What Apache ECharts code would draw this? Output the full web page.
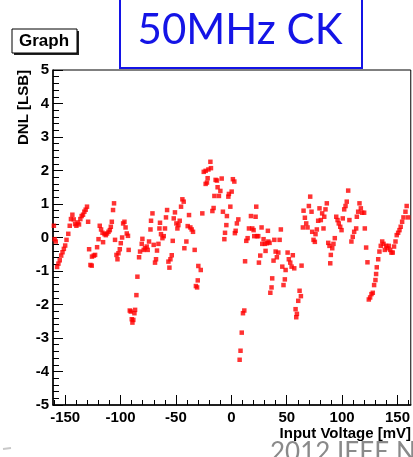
<!DOCTYPE html>
<html>
<head>
<meta charset="utf-8">
<script src="https://cdn.jsdelivr.net/npm/echarts@6/dist/echarts.min.js"></script>
<style>
html, body { margin: 0; padding: 0; background: #fff; }
#chart { width: 413px; height: 457px; }
</style>
</head>
<body>
<div id="chart"></div>
<script>
// Input voltage of each code transition [mV]
const voltage = [
  -160.2,-159.5,-158.5,-157.3,-156.1,-154.9,-153.6,-152.4,-151.2,-150.0,
  -148.8,-147.2,-145.9,-144.8,-143.5,-142.3,-141.1,-139.9,-138.7,-137.5,
  -136.3,-135.1,-133.9,-132.7,-131.5,-130.3,-129.3,
  -128.4,-127.2,-126.0,-125.8,-124.2,-123.0,-121.2,-119.9,-118.8,-117.6,-116.3,-115.8,-114.5,-113.3,-112.2,-110.9,-109.7,-108.8,-107.9,-106.8,-105.9,
  -105.0,-103.7,-102.8,-101.9,-100.7,-99.8,-98.6,-97.7,-96.5,-95.5,-94.4,-93.3,-92.7,
  -91.7,-90.8,-89.9,-89.3,-88.5,-87.5,-86.9,-85.7,-84.8,
  -83.3,-82.4,-80.9,-80.3,-79.1,-77.9,-76.4,-75.5,-74.3,-73.0,-72.5,-71.2,
  -70.1,-68.9,-68.0,-67.1,-65.8,-64.9,-64.4,-63.5,-62.2,-61.0,-59.9,-59.0,-58.0,
  -56.8,-55.9,-55.0,-53.8,-52.9,-52.0,-50.9,-49.6,-48.7,-47.8,-46.6,-45.4,-44.2,-43.0,
  -42.4,-40.6,-39.4,-38.2,-37.0,-35.8,-34.6,-33.1,
  -32.0,-30.9,-30.3,-29.8,-27.6,
  -26.2,-24.9,-23.2,-23.2,-22.0,-21.4,-20.7,-18.9,-18.4,-17.1,-16.0,-15.3,-14.2,-13.0,-12.4,-11.2,-9.9,-8.7,-7.6,-6.3,-5.7,-4.5,-4.0,-2.7,-2.2,-0.9,0.3,1.4,2.7,3.2,3.9,5.0,6.3,
  7.5,8.3,9.4,10.5,11.7,12.4,13.5,14.7,15.9,17.7,18.9,20.1,20.7,21.9,22.5,23.1,24.3,24.9,26.1,27.3,27.9,29.1,30.3,30.9,32.1,33.0,33.4,34.5,
  35.2,36.3,36.9,38.1,38.8,40.0,41.1,42.4,43.6,44.7,46.0,47.1,48.3,49.0,50.8,51.9,53.2,54.4,55.5,56.8,
  58.0,58.6,59.2,60.4,61.6,62.8,63.4,64.6,65.2,66.4,67.6,68.8,70.0,71.2,72.4,73.0,74.2,75.4,76.0,77.2,78.4,79.6,80.8,82.0,83.2,83.9,85.0,86.2,
  87.5,88.6,89.3,89.8,91.1,92.2,93.4,94.7,95.9,97.0,98.3,99.5,100.6,101.9,103.1,104.2,105.5,
  106.6,108.4,109.6,110.9,112.7,113.3,114.5,115.7,116.9,118.1,119.9,120.5,121.7,122.9,
  124.1,125.3,126.5,127.7,128.9,130.1,130.7,131.3,132.6,133.7,134.9,136.2,137.4,138.6,139.8,140.9,142.1,143.4,144.5,145.7,146.9,148.2,149.3,150.6,151.8,152.9,154.2,155.4,157.2,158.3,159.6
];

// Differential non-linearity of each code [LSB]
const dnl = [
  0.35,-0.05,-0.12,-0.88,-0.78,-0.68,-0.54,-0.44,-0.34,-0.24,
  -0.07,0.11,0.35,0.55,0.68,0.54,0.40,0.35,0.45,0.39,
  0.55,0.64,0.68,0.77,0.83,0.92,0.47,
  -0.35,-0.82,-0.84,-0.57,-0.54,-0.52,-0.29,-0.05,0.35,0.24,0.14,-0.14,0.10,0.07,0.12,0.17,0.22,0.32,0.47,0.82,1.02,
  -0.07,-0.52,-0.65,-0.47,-0.35,-0.17,0.0,0.42,0.47,0.30,0.12,0.05,-0.37,
  -2.18,-2.21,-2.44,-2.54,-2.46,-2.26,-2.16,-1.72,-1.17,
  -0.59,-0.42,-0.19,-0.04,-0.37,-0.32,-0.27,-0.37,-0.12,0.24,0.50,0.72,
  -0.22,-0.75,-0.65,-0.39,-0.19,0.27,0.44,0.10,-0.02,0.04,0.27,0.60,0.82,
  -0.72,-0.90,-0.65,-0.53,-0.10,0.57,0.75,0.42,0.27,0.37,0.50,0.92,1.14,1.07,
  -0.32,-0.12,0.34,0.67,0.30,0.24,0.17,-0.37,
  -1.45,-1.49,-1.28,-0.85,-0.97,
  0.72,1.96,1.99,1.60,1.64,1.77,2.03,2.26,2.07,0.79,0.88,1.24,1.72,1.70,1.50,1.24,1.39,1.76,0.77,-0.05,0.14,0.37,0.64,1.22,1.30,0.92,1.37,1.74,1.67,0.13,0.20,0.42,0.54,
  -3.65,-3.38,-2.84,-2.26,-2.18,-0.71,-0.10,-0.02,0.27,0.64,0.27,0.22,0.04,0.62,0.92,0.04,0.04,-0.75,-0.54,0.30,-0.19,-0.05,-0.19,-0.40,-0.17,0.20,-0.12,-0.16,
  -1.65,-1.49,-1.22,-0.69,-0.07,-0.42,-0.59,-0.45,-0.07,0.24,-0.87,-1.42,-1.25,-0.97,-0.45,-0.65,-0.75,-0.87,-0.53,-0.92,
  -2.14,-2.38,-2.28,-1.89,-1.59,-1.75,-0.84,0.30,0.80,0.59,0.42,0.30,0.94,1.22,0.77,0.17,-0.07,-0.13,0.10,0.24,0.50,0.87,0.52,0.72,0.27,0.62,0.84,1.02,
  -0.16,-0.25,-0.77,-0.52,-0.32,-0.19,-0.02,0.62,0.52,0.42,0.32,0.22,0.57,0.84,0.94,1.07,1.40,
  0.52,-0.12,0.02,0.17,0.27,0.62,0.77,1.02,0.87,0.74,0.74,0.27,-0.30,-0.74,
  -1.85,-1.79,-1.69,-1.65,-1.42,-1.27,-1.09,-0.89,-0.65,-0.42,-0.25,-0.12,-0.19,-0.37,-0.25,-0.32,-0.25,-0.37,-0.45,-0.45,-0.27,-0.12,0.07,0.14,0.22,0.32,0.47,0.60,0.77,0.94,0.60
];

// Axis ticks
const xMajorTicks = [-150, -100, -50, 0, 50, 100, 150];
const xMinorTicks = [-160,-140,-130,-120,-110,-90,-80,-70,-60,-40,-30,-20,-10,10,20,30,40,60,70,80,90,110,120,130,140,160];
const xRange = [-161, 162];
const yRange = [-5, 5];

const points = voltage.map((v, i) => [v, dnl[i]]);

const tickFont = { color: '#000', fontFamily: 'Liberation Sans, Arial, sans-serif', fontWeight: 'bold', fontSize: 15 };

const chart = echarts.init(document.getElementById('chart'), null, { renderer: 'canvas' });
chart.setOption({
  animation: false,
  backgroundColor: '#fff',
  grid: {
    left: 53, top: 70, width: 359, height: 335,
    show: true, borderColor: '#000', borderWidth: 1, backgroundColor: 'transparent'
  },
  xAxis: [
    {
      type: 'value', min: xRange[0], max: xRange[1], position: 'bottom',
      axisLine: { show: true, onZero: false, lineStyle: { color: '#000', width: 1.5 } },
      axisTick: { show: true, inside: true, length: 10, customValues: xMajorTicks, lineStyle: { color: '#000', width: 1 } },
      axisLabel: Object.assign({ show: true, margin: 5, customValues: xMajorTicks, hideOverlap: false }, tickFont),
      splitLine: { show: false }
    },
    {
      // minor ticks every 10 mV on the same bottom edge
      type: 'value', min: xRange[0], max: xRange[1], position: 'bottom',
      axisLine: { show: false, onZero: false },
      axisTick: { show: true, inside: true, length: 5, customValues: xMinorTicks, lineStyle: { color: '#000', width: 1 } },
      axisLabel: { show: false },
      splitLine: { show: false }
    }
  ],
  yAxis: {
    type: 'value', min: yRange[0], max: yRange[1], interval: 1,
    axisLine: { show: true, onZero: false, lineStyle: { color: '#000', width: 1.5 } },
    axisTick: { show: true, inside: true, length: 10, lineStyle: { color: '#000', width: 1 } },
    minorTick: { show: true, splitNumber: 5, length: 6, lineStyle: { color: '#000', width: 1 } },
    axisLabel: Object.assign({ show: true, margin: 4 }, tickFont),
    splitLine: { show: false },
    minorSplitLine: { show: false }
  },
  series: [{
    type: 'scatter',
    xAxisIndex: 0, yAxisIndex: 0,
    data: points,
    symbol: 'rect',
    symbolSize: 4.5,
    itemStyle: { color: '#ff0000' },
    silent: true
  }],
  graphic: [
    // title box
    { type: 'rect', shape: { x: 120, y: -5, width: 242, height: 73 },
      style: { fill: '#fff', stroke: '#1414e6', lineWidth: 2 }, z: 10 },
    { type: 'text', x: 240, y: 30, z: 11,
      style: { text: '50MHz CK', font: '42px Lato, "Open Sans", sans-serif', fill: '#1414e6', align: 'center', verticalAlign: 'middle' } },
    // graph name box with shadow
    { type: 'rect', shape: { x: 14, y: 31, width: 65, height: 24 }, style: { fill: '#222' }, z: 10 },
    { type: 'rect', shape: { x: 12, y: 29, width: 65, height: 24 },
      style: { fill: '#fff', stroke: '#000', lineWidth: 1 }, z: 11 },
    { type: 'text', x: 44, y: 41.5, z: 12,
      style: { text: 'Graph', font: 'bold 17px "Liberation Sans", Arial, sans-serif', fill: '#000', align: 'center', verticalAlign: 'middle' } },
    // axis titles
    { type: 'text', x: 411, y: 434, z: 10,
      style: { text: 'Input Voltage [mV]', font: 'bold 15px "Liberation Sans", Arial, sans-serif', fill: '#000', align: 'right', verticalAlign: 'middle' } },
    { type: 'text', x: 24, y: 70, rotation: Math.PI / 2, z: 10,
      style: { text: 'DNL [LSB]', font: 'bold 15px "Liberation Sans", Arial, sans-serif', fill: '#000', align: 'right', verticalAlign: 'middle' } },
    // footer text, cut by the bottom edge
    { type: 'text', x: 270, y: 453, z: 10,
      style: { text: '2012 IEEE N', font: '26px Lato, "Open Sans", sans-serif', fill: '#8a8a8a', align: 'left', verticalAlign: 'middle' } },
    { type: 'line', shape: { x1: 3, y1: 449, x2: 11, y2: 448 }, style: { stroke: '#c8c8c8', lineWidth: 2 }, z: 10 }
  ]
});
</script>
</body>
</html>
